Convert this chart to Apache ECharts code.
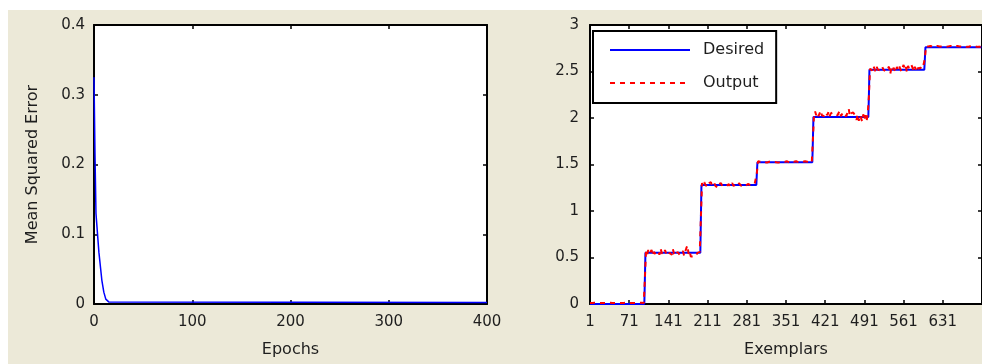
<!DOCTYPE html>
<html>
<head>
<meta charset="utf-8">
<script src="https://cdn.jsdelivr.net/npm/echarts@6/dist/echarts.min.js"></script>
<style>
  html, body { margin: 0; padding: 0; background: #ffffff; }
  #chart { width: 982px; height: 364px; }
</style>
</head>
<body>
<div id="chart"></div>
<script>
// Training curve: mean squared error per epoch
const mseCurve = [
  [0, 0.325], [1, 0.215], [2, 0.13], [3, 0.13], [4, 0.128],
  [5, 0.074], [6, 0.074], [7, 0.073], [8, 0.034], [9, 0.033],
  [10, 0.017], [11, 0.016], [12, 0.007], [13, 0.006], [14, 0.005],
  [15, 0.003], [16, 0.002], [400, 0.002]
];
const epochTicks = [0, 100, 200, 300, 400];
const mseTicks = [0, 0.1, 0.2, 0.3, 0.4];

// Desired target per exemplar (step breakpoints)
const desired = [
  [1, 0], [98, 0], [99, 0.27], [100, 0.55],
  [198, 0.55], [199, 0.92], [200, 1.28],
  [298, 1.28], [299, 1.41], [300, 1.524],
  [398, 1.524], [399, 1.76], [400, 2.01],
  [498, 2.01], [499, 2.23], [500, 2.52],
  [598, 2.52], [599, 2.64], [600, 2.76],
  [700, 2.76]
];

// Network output, one value every OUTPUT_STEP exemplars starting at exemplar 1,
// grouped by target level (50 samples each)
const OUTPUT_STEP = 2;
const outLevel0 = [
  0.012, 0.012, 0.011, 0.012, 0.013, 0.012, 0.012, 0.011, 0.012, 0.012,
  0.012, 0.013, 0.012, 0.012, 0.011, 0.012, 0.012, 0.012, 0.013, 0.012,
  0.012, 0.011, 0.012, 0.012, 0.012, 0.013, 0.012, 0.012, 0.011, 0.012,
  0.012, 0.012, 0.013, 0.012, 0.012, 0.011, 0.012, 0.012, 0.012, 0.013,
  0.012, 0.012, 0.011, 0.012, 0.012, 0.012, 0.013, 0.012, 0.012, 0.27
];
const outLevel1 = [
  0.57, 0.53, 0.58, 0.54, 0.55, 0.58, 0.52, 0.56, 0.55, 0.53,
  0.54, 0.56, 0.53, 0.60, 0.55, 0.57, 0.53, 0.58, 0.54, 0.56,
  0.52, 0.55, 0.57, 0.53, 0.59, 0.54, 0.55, 0.52, 0.56, 0.58,
  0.53, 0.55, 0.54, 0.57, 0.52, 0.56, 0.60, 0.63, 0.54, 0.57,
  0.51, 0.52, 0.51, 0.52, 0.51, 0.53, 0.55, 0.54, 0.56, 0.92
];
const outLevel2 = [
  1.30, 1.27, 1.31, 1.28, 1.29, 1.26, 1.30, 1.28, 1.31, 1.27,
  1.29, 1.30, 1.27, 1.28, 1.25, 1.29, 1.28, 1.30, 1.27, 1.29,
  1.28, 1.30, 1.27, 1.28, 1.29, 1.26, 1.28, 1.30, 1.27, 1.29,
  1.28, 1.29, 1.27, 1.30, 1.28, 1.27, 1.29, 1.28, 1.30, 1.27,
  1.28, 1.29, 1.27, 1.28, 1.30, 1.28, 1.27, 1.29, 1.28, 1.41
];
const outLevel3 = [
  1.535, 1.525, 1.53, 1.52, 1.535, 1.53, 1.525, 1.535, 1.52, 1.53,
  1.53, 1.525, 1.535, 1.52, 1.53, 1.535, 1.525, 1.53, 1.52, 1.535,
  1.525, 1.53, 1.535, 1.52, 1.53, 1.525, 1.535, 1.53, 1.52, 1.53,
  1.535, 1.525, 1.53, 1.52, 1.535, 1.53, 1.525, 1.535, 1.52, 1.53,
  1.53, 1.525, 1.535, 1.52, 1.53, 1.535, 1.525, 1.53, 1.52, 1.76
];
const outLevel4 = [
  2.04, 2.07, 2.03, 2.06, 2.02, 2.05, 2.08, 2.03, 2.05, 2.02,
  2.06, 2.04, 2.03, 2.07, 2.02, 2.05, 2.03, 2.06, 2.06, 2.04,
  2.06, 2.03, 2.05, 2.08, 2.02, 2.04, 2.06, 2.03, 2.05, 2.02,
  2.07, 2.10, 2.02, 2.05, 2.03, 2.06, 2.04, 2.02, 1.98, 2.04,
  1.97, 2.03, 2.00, 1.96, 2.04, 1.98, 2.03, 1.97, 2.05, 2.23
];
const outLevel5 = [
  2.53, 2.55, 2.51, 2.56, 2.53, 2.50, 2.55, 2.52, 2.54, 2.51,
  2.53, 2.55, 2.52, 2.54, 2.50, 2.53, 2.51, 2.55, 2.47, 2.53,
  2.50, 2.54, 2.52, 2.49, 2.55, 2.52, 2.56, 2.53, 2.50, 2.54,
  2.57, 2.52, 2.55, 2.49, 2.56, 2.53, 2.51, 2.57, 2.54, 2.50,
  2.55, 2.52, 2.56, 2.53, 2.51, 2.54, 2.52, 2.53, 2.52, 2.64
];
const outLevel6 = [
  2.77, 2.765, 2.77, 2.765, 2.775, 2.77, 2.765, 2.77, 2.765, 2.77,
  2.775, 2.765, 2.77, 2.765, 2.77, 2.775, 2.765, 2.77, 2.765, 2.77,
  2.77, 2.765, 2.775, 2.765, 2.77, 2.77, 2.765, 2.77, 2.775, 2.77,
  2.77, 2.765, 2.77, 2.765, 2.775, 2.77, 2.765, 2.77, 2.765, 2.77,
  2.775, 2.765, 2.77, 2.765, 2.77, 2.77, 2.765, 2.77, 2.765, 2.77
];
const output = [].concat(outLevel0, outLevel1, outLevel2, outLevel3, outLevel4, outLevel5, outLevel6);

const exemplarTicks = [1, 71, 141, 211, 281, 351, 421, 491, 561, 631, 701];
const exemplarLabels = [1, 71, 141, 211, 281, 351, 421, 491, 561, 631];
const levelTicks = [0, 0.5, 1, 1.5, 2, 2.5, 3];

const FONT = 'DejaVu Sans';
const TEXT = '#1e1e1e';

const frameLine = { show: true, onZero: false, lineStyle: { color: '#000', width: 2 } };
const tickIn = { show: true, inside: true, length: 4, lineStyle: { color: '#000', width: 1.5 } };
const labelStyle = (margin) => ({ color: TEXT, fontFamily: FONT, fontSize: 15, margin });
const nameStyle = { color: TEXT, fontFamily: FONT, fontSize: 16 };

const chart = echarts.init(document.getElementById('chart'), null, { renderer: 'canvas' });

chart.setOption({
  animation: false,
  backgroundColor: '#ffffff',
  graphic: [{
    type: 'rect', z: -10, silent: true,
    shape: { x: 8, y: 10, width: 974, height: 354 },
    style: { fill: '#ECE9D8' }
  }],
  grid: [
    { left: 94, top: 25, width: 393, height: 279, show: true, backgroundColor: '#fff', borderWidth: 0 },
    { left: 590, top: 25, width: 393, height: 279, show: true, backgroundColor: '#fff', borderWidth: 0 }
  ],
  legend: {
    data: ['Desired', 'Output'],
    orient: 'vertical',
    left: 593, top: 31,
    padding: [11, 12, 12, 16],
    itemWidth: 80, itemHeight: 14, itemGap: 17,
    itemStyle: { opacity: 0 },
    backgroundColor: '#fff',
    borderColor: '#000', borderWidth: 2,
    textStyle: { color: TEXT, fontFamily: FONT, fontSize: 16, padding: [0, 0, 0, 8] }
  },
  xAxis: [
    {
      gridIndex: 0, type: 'value', position: 'bottom',
      min: epochTicks[0], max: epochTicks[epochTicks.length - 1], interval: 100,
      axisLine: frameLine, axisTick: tickIn, splitLine: { show: false },
      axisLabel: labelStyle(11),
      name: 'Epochs', nameLocation: 'middle', nameGap: 38, nameTextStyle: nameStyle
    },
    {
      gridIndex: 0, type: 'value', position: 'top',
      min: epochTicks[0], max: epochTicks[epochTicks.length - 1], interval: 100,
      axisLine: frameLine, axisTick: tickIn, splitLine: { show: false },
      axisLabel: { show: false }
    },
    {
      gridIndex: 1, type: 'value', position: 'bottom',
      min: 1, max: 701,
      axisLine: frameLine,
      axisTick: Object.assign({}, tickIn, { customValues: exemplarTicks }),
      splitLine: { show: false },
      axisLabel: Object.assign(labelStyle(11), { customValues: exemplarLabels }),
      name: 'Exemplars', nameLocation: 'middle', nameGap: 38, nameTextStyle: nameStyle
    },
    {
      gridIndex: 1, type: 'value', position: 'top',
      min: 1, max: 701,
      axisLine: frameLine,
      axisTick: Object.assign({}, tickIn, { customValues: exemplarTicks }),
      splitLine: { show: false },
      axisLabel: { show: false }
    }
  ],
  yAxis: [
    {
      gridIndex: 0, type: 'value', position: 'left',
      min: mseTicks[0], max: mseTicks[mseTicks.length - 1], interval: 0.1,
      axisLine: frameLine, axisTick: tickIn, splitLine: { show: false },
      axisLabel: labelStyle(9),
      name: 'Mean Squared Error', nameLocation: 'middle', nameGap: 53, nameTextStyle: nameStyle
    },
    {
      gridIndex: 0, type: 'value', position: 'right',
      min: mseTicks[0], max: mseTicks[mseTicks.length - 1], interval: 0.1,
      axisLine: frameLine, axisTick: tickIn, splitLine: { show: false },
      axisLabel: { show: false }
    },
    {
      gridIndex: 1, type: 'value', position: 'left',
      min: levelTicks[0], max: levelTicks[levelTicks.length - 1], interval: 0.5,
      axisLine: frameLine, axisTick: tickIn, splitLine: { show: false },
      axisLabel: labelStyle(11)
    },
    {
      gridIndex: 1, type: 'value', position: 'right',
      min: levelTicks[0], max: levelTicks[levelTicks.length - 1], interval: 0.5,
      axisLine: frameLine, axisTick: tickIn, splitLine: { show: false },
      axisLabel: { show: false }
    }
  ],
  series: [
    {
      name: 'MSE', type: 'line', xAxisIndex: 0, yAxisIndex: 0,
      data: mseCurve, symbol: 'none',
      lineStyle: { color: '#0000ff', width: 1.5 }, itemStyle: { color: '#0000ff' }
    },
    {
      name: 'Desired', type: 'line', xAxisIndex: 2, yAxisIndex: 2,
      data: desired, symbol: 'none',
      lineStyle: { color: '#0000ff', width: 2 }, itemStyle: { color: '#0000ff' }
    },
    {
      name: 'Output', type: 'line', xAxisIndex: 2, yAxisIndex: 2,
      data: output.map((v, i) => [1 + i * OUTPUT_STEP, v]), symbol: 'none',
      lineStyle: { color: '#ff0000', width: 2, type: [5, 5] }, itemStyle: { color: '#ff0000' }
    }
  ]
});
</script>
</body>
</html>
